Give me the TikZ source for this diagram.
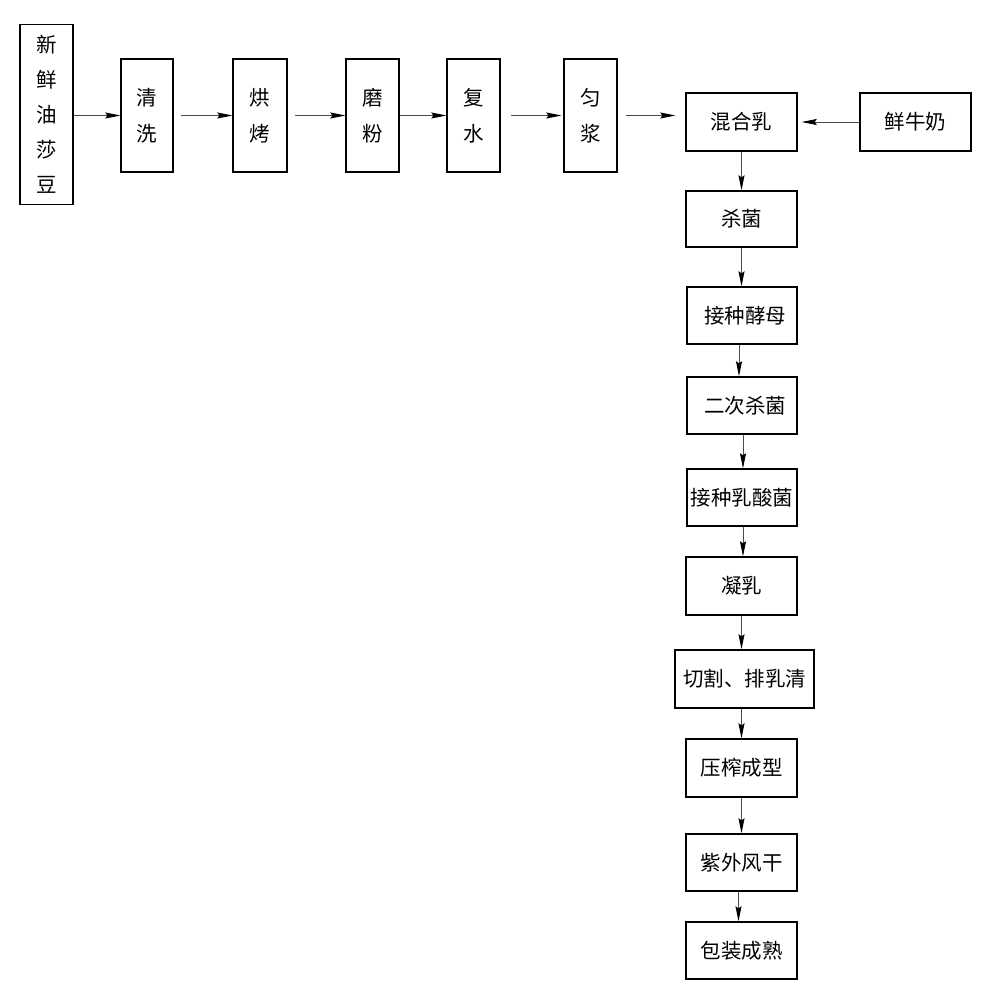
\documentclass[tikz,border=0pt]{standalone}
\usepackage{fontspec}
\newfontfamily\cjk{Noto Sans CJK SC}
\usetikzlibrary{arrows.meta}
\tikzset{
  box/.style={draw=black, line width=1.4pt, rectangle, inner sep=0pt, align=center,
              font=\cjk\fontsize{20.5}{36}\selectfont},
  arr/.style={draw=black!70, line width=0.9pt, -{Stealth[length=15pt,width=6pt,inset=2pt,color=black]}},
}
\begin{document}
\begin{tikzpicture}[x=1pt,y=-1pt]
\useasboundingbox (0,0) rectangle (984,1000);
% top row
\node[box, minimum width=53pt, minimum height=180pt, font=\cjk\fontsize{20.5}{35}\selectfont] (n1) at (46.5,114.5) {新\\鲜\\油\\莎\\豆};
\node[box, minimum width=52pt, minimum height=113pt] (n2) at (147,115.5) {清\\洗};
\node[box, minimum width=54pt, minimum height=113pt] (n3) at (260,115.5) {烘\\烤};
\node[box, minimum width=53pt, minimum height=113pt] (n4) at (372.5,115.5) {磨\\粉};
\node[box, minimum width=53pt, minimum height=113pt] (n5) at (473.5,115.5) {复\\水};
\node[box, minimum width=53pt, minimum height=113pt] (n6) at (590.5,115.5) {匀\\浆};
% right column
\node[box, minimum width=111pt, minimum height=58pt] (m) at (741.5,122) {混合乳};
\node[box, minimum width=111pt, minimum height=58pt] (milk) at (915.5,122) {鲜牛奶};
\node[box, minimum width=111pt, minimum height=56pt] (s1) at (741.5,219) {杀菌};
\node[box, minimum width=110pt, minimum height=57pt] (s2) at (742,315.5) {\hspace*{6pt}接种酵母};
\node[box, minimum width=110pt, minimum height=57pt] (s3) at (742,405.5) {\hspace*{6pt}二次杀菌};
\node[box, minimum width=110pt, minimum height=57pt] (s4) at (742,497.5) {接种乳酸菌};
\node[box, minimum width=111pt, minimum height=58pt] (s5) at (741.5,586) {凝乳};
\node[box, minimum width=139pt, minimum height=58pt] (s6) at (744.5,679) {切割、排乳清};
\node[box, minimum width=111pt, minimum height=58pt] (s7) at (741.5,768) {压榨成型};
\node[box, minimum width=111pt, minimum height=57pt] (s8) at (741.5,862.5) {紫外风干};
\node[box, minimum width=111pt, minimum height=57pt] (s9) at (741.5,950.5) {包装成熟};
% horizontal arrows
\draw[arr] (n1.east |- n2.west) -- (n2.west);
\draw[arr, shorten <=7pt] (n2.east) -- (n3.west);
\draw[arr, shorten <=7pt] (n3.east) -- (n4.west);
\draw[arr] (n4.east) -- (n5.west);
\draw[arr, shorten <=10pt, shorten >=2pt] (n5.east) -- (n6.west);
\draw[arr, shorten <=8pt] (n6.east) -- ([xshift=-10pt]m.west |- n6.east);
\draw[arr, shorten >=4pt] (milk.west) -- (m.east);
% vertical arrows
\draw[arr] (m.south) -- (s1.north);
\draw[arr] (s1.south) -- (s2.north -| s1.south);
\draw[arr] ([xshift=-3pt]s2.south) -- ([xshift=-3pt]s3.north);
\draw[arr] ([xshift=1pt]s3.south) -- ([xshift=1pt]s4.north);
\draw[arr] ([xshift=1pt]s4.south) -- ([xshift=1.5pt]s5.north);
\draw[arr] (s5.south) -- (s6.north -| s5.south);
\draw[arr] (s6.south -| s5.south) -- (s7.north);
\draw[arr] (s7.south) -- (s8.north);
\draw[arr] ([xshift=-3pt]s8.south) -- ([xshift=-3pt]s9.north);
\end{tikzpicture}
\end{document}
